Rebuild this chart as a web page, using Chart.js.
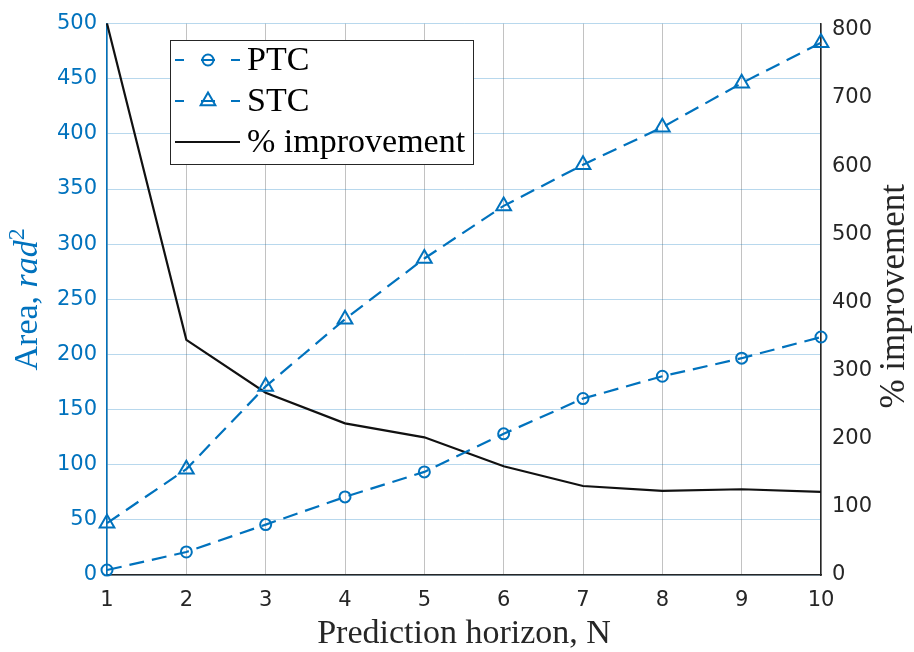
<!DOCTYPE html>
<html>
<head>
<meta charset="utf-8">
<script src="https://cdn.jsdelivr.net/npm/chart.js@4/dist/chart.umd.min.js"></script>
<style>
  html, body { margin: 0; padding: 0; background: #ffffff; }
  #wrap { width: 914px; height: 652px; }
</style>
</head>
<body>
<div id="wrap"><canvas id="chart" width="914" height="652"></canvas></div>
<script>
// Values
const horizon = [1, 2, 3, 4, 5, 6, 7, 8, 9, 10];
const ptcArea = [4.5, 20.9, 45.7, 70.8, 93.5, 128, 160, 180.2, 196.6, 215.8];
const stcArea = [47, 96, 171, 232, 287, 334.7, 372, 406, 446, 482.6];
const improvementPct = [809, 345, 267.5, 222.5, 202, 159.6, 130.6, 123.4, 125.8, 121.9];

const areaTicks = [0, 50, 100, 150, 200, 250, 300, 350, 400, 450, 500];
const pctTicks = [0, 100, 200, 300, 400, 500, 600, 700, 800];
const areaRange = [0, 500];
const pctRange = [0, 809];

const BLUE = "#0072BD";
const DARK = "#262626";
const SERIF = "'Liberation Serif', 'DejaVu Serif', serif";
const SANS = "'DejaVu Sans', sans-serif";

const toPoints = (ys) => horizon.map((x, i) => ({ x, y: ys[i] }));
const fixedTicks = (list) => (scale) => { scale.ticks = list.map((v) => ({ value: v })); };

// axis titles (with italic / superscript parts) and the inset legend
const decorations = {
  id: "decorations",
  afterDraw: (chart) => {
    const ctx = chart.ctx;
    const area = chart.chartArea;
    const midY = (area.top + area.bottom) / 2;

    ctx.save();
    // x title
    ctx.fillStyle = DARK;
    ctx.font = "34px " + SERIF;
    ctx.textAlign = "center";
    ctx.textBaseline = "alphabetic";
    ctx.fillText("Prediction horizon, N", (area.left + area.right) / 2, 643);

    // left title: "Area, rad^2"
    const parts = [
      { t: "Area, ", f: "34px " + SERIF, dy: 0 },
      { t: "rad", f: "italic 34px " + SERIF, dy: 0 },
      { t: "2", f: "24px " + SERIF, dy: -13 },
    ];
    let total = 0;
    parts.forEach((p) => { ctx.font = p.f; p.w = ctx.measureText(p.t).width; total += p.w; });
    ctx.translate(37, midY);
    ctx.rotate(-Math.PI / 2);
    ctx.fillStyle = BLUE;
    ctx.textAlign = "left";
    let px = -total / 2;
    parts.forEach((p) => { ctx.font = p.f; ctx.fillText(p.t, px, p.dy); px += p.w; });
    ctx.restore();

    // right title
    ctx.save();
    ctx.translate(904, midY - 3);
    ctx.rotate(-Math.PI / 2);
    ctx.fillStyle = DARK;
    ctx.font = "35px " + SERIF;
    ctx.textAlign = "center";
    ctx.fillText("% improvement", 0, 0);
    ctx.restore();

    // legend box
    const box = { x: 170.5, y: 40.5, w: 303, h: 124 };
    ctx.save();
    ctx.fillStyle = "#ffffff";
    ctx.fillRect(box.x, box.y, box.w, box.h);
    ctx.strokeStyle = DARK;
    ctx.lineWidth = 1;
    ctx.strokeRect(box.x, box.y, box.w, box.h);
    const rows = [60, 101, 142];
    chart.data.datasets.forEach((ds, i) => {
      const y = rows[i];
      ctx.strokeStyle = ds.borderColor;
      ctx.lineWidth = ds.borderWidth;
      const segs = ds.borderDash ? [[175, 184], [201, 215], [231, 240]] : [[175, 240]];
      ctx.beginPath();
      segs.forEach(([a, b]) => { ctx.moveTo(a, y); ctx.lineTo(b, y); });
      ctx.stroke();
      if (ds.pointRadius > 0) {
        ctx.fillStyle = "rgba(0,0,0,0)";
        ctx.strokeStyle = ds.pointBorderColor;
        ctx.lineWidth = ds.pointBorderWidth;
        Chart.helpers.drawPoint(ctx, {
          pointStyle: ds.pointStyle, radius: ds.pointRadius,
          borderWidth: ds.pointBorderWidth, rotation: 0,
        }, 208, y);
      }
      ctx.fillStyle = "#000000";
      ctx.font = "34px " + SERIF;
      ctx.textAlign = "left";
      ctx.textBaseline = "middle";
      ctx.fillText(ds.label, 247, y + 1);
    });
    ctx.restore();
  },
};

new Chart(document.getElementById("chart"), {
  type: "line",
  data: {
    datasets: [
      {
        label: "PTC",
        data: toPoints(ptcArea),
        yAxisID: "y",
        borderColor: BLUE,
        borderWidth: 2.2,
        borderDash: [15, 8],
        pointStyle: "circle",
        pointRadius: 5.5,
        pointBorderWidth: 2,
        pointBorderColor: BLUE,
        pointBackgroundColor: "rgba(0,0,0,0)",
        tension: 0,
        clip: false,
      },
      {
        label: "STC",
        data: toPoints(stcArea),
        yAxisID: "y",
        borderColor: BLUE,
        borderWidth: 2.2,
        borderDash: [15, 8],
        pointStyle: "triangle",
        pointRadius: 8.5,
        pointBorderWidth: 2,
        pointBorderColor: BLUE,
        pointBackgroundColor: "rgba(0,0,0,0)",
        tension: 0,
        clip: false,
      },
      {
        label: "% improvement",
        data: toPoints(improvementPct),
        yAxisID: "y1",
        borderColor: "#111111",
        borderWidth: 2.2,
        pointRadius: 0,
        tension: 0,
        clip: false,
      },
    ],
  },
  options: {
    responsive: false,
    animation: false,
    layout: { padding: { top: 17 } },
    plugins: {
      legend: { display: false },
      tooltip: { enabled: false },
    },
    scales: {
      x: {
        type: "linear",
        min: horizon[0],
        max: horizon[horizon.length - 1],
        afterBuildTicks: fixedTicks(horizon),
        ticks: { padding: 13, color: DARK, font: { family: SANS, size: 21 } },
        grid: { color: "rgba(0,0,0,0.24)", lineWidth: 1, drawTicks: false },
        border: { color: DARK, width: 1.5 },
        afterFit: (scale) => { scale.height = 77; },
      },
      y: {
        position: "left",
        min: areaRange[0],
        max: areaRange[1],
        afterBuildTicks: fixedTicks(areaTicks),
        ticks: { padding: 10, color: BLUE, font: { family: SANS, size: 21 } },
        grid: { color: "rgba(0,114,189,0.28)", lineWidth: 1, drawTicks: false },
        border: { color: BLUE, width: 1.5 },
        afterFit: (scale) => { scale.width = 107; },
      },
      y1: {
        position: "right",
        min: pctRange[0],
        max: pctRange[1],
        afterBuildTicks: fixedTicks(pctTicks),
        ticks: { padding: 11, color: DARK, font: { family: SANS, size: 21 } },
        grid: { drawOnChartArea: false, drawTicks: false },
        border: { color: DARK, width: 1.5 },
        afterFit: (scale) => { scale.width = 93; },
      },
    },
  },
  plugins: [decorations],
});
</script>
</body>
</html>
